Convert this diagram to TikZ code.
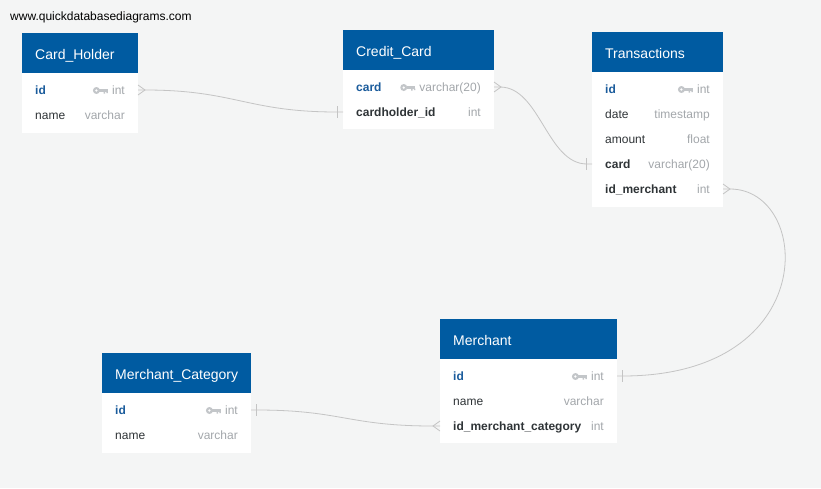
\documentclass[tikz,border=0pt]{standalone}
\usepackage{fontspec}
\setmainfont{Liberation Sans}
\usetikzlibrary{calc}
\definecolor{bgcol}{HTML}{F4F5F5}
\definecolor{hdrblue}{HTML}{005BA1}
\definecolor{pkblue}{HTML}{1B5C9C}
\definecolor{darktext}{HTML}{2F3437}
\definecolor{typegrey}{HTML}{A3A7AB}
\definecolor{keygrey}{HTML}{C3C6C9}
\definecolor{conngrey}{HTML}{C4C4C4}
\tikzset{
  hdr/.style={fill=hdrblue, draw=none, inner sep=0, outer sep=0, anchor=north west, minimum height=40pt},
  bodybox/.style={fill=white, draw=none, inner sep=0, outer sep=0, anchor=north west},
  ttl/.style={text=white, font=\fontsize{14}{16}\selectfont, inner sep=0, anchor=base west},
  rowbox/.style={inner sep=0, outer sep=0, minimum height=25pt, draw=none},
  pkf/.style={text=pkblue, font=\fontsize{12}{14}\selectfont\bfseries, inner sep=0, anchor=base west},
  fkf/.style={text=darktext, font=\fontsize{12}{14}\selectfont\bfseries, inner sep=0, anchor=base west},
  plainf/.style={text=darktext, font=\fontsize{12}{14}\selectfont, inner sep=0, anchor=base west},
  typf/.style={text=typegrey, font=\fontsize{12}{14}\selectfont, inner sep=0, anchor=base east},
  conn/.style={draw=conngrey, line width=0.8pt},
}
% #1 id, #2 x, #3 y top, #4 width, #5 body height, #6 title
\newcommand{\ertable}[6]{%
  \node[hdr, minimum width=#4] (#1) at (#2,#3) {};
  \node[bodybox, minimum width=#4, minimum height=#5] (#1-body) at (#2,#3+40) {};
  \node[ttl] (#1-title) at (#2+13,#3+26) {#6};
}
% #1 name, #2 x left, #3 width, #4 row centre y, #5 style, #6 field, #7 type
\newcommand{\errow}[7]{%
  \node[rowbox, minimum width=#3, anchor=west] (#1) at (#2,#4) {};
  \node[#5] (#1-name) at (#2+13,#4+4.5) {#6};
  \node[typf] (#1-type) at (#2+#3-13,#4+4.5) {#7};
}
\newcommand{\erkey}[1]{%
  \begin{scope}[shift={($(#1-type.base west)+(-4,-4)$)}]
    \fill[keygrey, even odd rule] (-11.5,0) circle (3.5pt) (-11.5,0) circle (1.5pt);
    \fill[keygrey] (-8.5,-1.2) rectangle (0,1.2);
    \fill[keygrey] (-4.2,1.2) rectangle (-2.7,3.2) (-1.5,1.2) rectangle (0,2.6);
  \end{scope}}
\newcommand{\manyend}[2]{%
  \draw[conn] ($(#1)+(0,-5)$) -- ($(#1)+(#2*7,0)$) -- ($(#1)+(0,5)$);}
\newcommand{\oneend}[2]{%
  \draw[conn] ($(#1)+(#2*5.5,-6)$) -- ($(#1)+(#2*5.5,6)$);}
\begin{document}
\begin{tikzpicture}[x=1pt,y=-1pt]
\useasboundingbox (0,0) rectangle (821,488);
\fill[bgcol] (0,0) rectangle (821,488);
\node[font=\fontsize{12}{14}\selectfont, anchor=base west, inner sep=0] (wm) at (10,20) {www.quickdatabasediagrams.com};

% Card_Holder
\ertable{ch}{22}{33}{116}{60}{Card\_Holder}
\errow{ch-id}{22}{116}{90}{pkf}{id}{int}\erkey{ch-id}
\errow{ch-name}{22}{116}{115}{plainf}{name}{varchar}

% Credit_Card
\ertable{cc}{343}{30}{151}{59}{Credit\_Card}
\errow{cc-card}{343}{151}{87}{pkf}{card}{varchar(20)}\erkey{cc-card}
\errow{cc-ch}{343}{151}{112}{fkf}{cardholder\_id}{int}

% Transactions
\ertable{tr}{592}{32}{131}{135}{Transactions}
\errow{tr-id}{592}{131}{89}{pkf}{id}{int}\erkey{tr-id}
\errow{tr-date}{592}{131}{114}{plainf}{date}{timestamp}
\errow{tr-amount}{592}{131}{139}{plainf}{amount}{float}
\errow{tr-card}{592}{131}{164}{fkf}{card}{varchar(20)}
\errow{tr-idm}{592}{131}{189}{fkf}{id\_merchant}{int}

% Merchant
\ertable{me}{440}{319}{177}{84}{Merchant}
\errow{me-id}{440}{177}{376}{pkf}{id}{int}\erkey{me-id}
\errow{me-name}{440}{177}{401}{plainf}{name}{varchar}
\errow{me-imc}{440}{177}{426}{fkf}{id\_merchant\_category}{int}

% Merchant_Category
\ertable{mc}{102}{353}{149}{60}{Merchant\_Category}
\errow{mc-id}{102}{149}{410}{pkf}{id}{int}\erkey{mc-id}
\errow{mc-name}{102}{149}{435}{plainf}{name}{varchar}

% connectors
\coordinate (c1s) at ($(ch-id.east)+(7,0)$);
\coordinate (c1e) at ($(cc-ch.west)+(-6,0)$);
\draw[conn] (ch-id.east) -- (c1s) .. controls +(90,0) and +(-90,0) .. (c1e) -- (cc-ch.west);
\manyend{ch-id.east}{1}
\oneend{cc-ch.west}{-1}

\coordinate (c2s) at ($(cc-card.east)+(6,0)$);
\coordinate (c2e) at ($(tr-card.west)+(-5,0)$);
\draw[conn] (cc-card.east) -- (c2s) .. controls +(40,0) and +(-40,0) .. (c2e) -- (tr-card.west);
\manyend{cc-card.east}{1}
\oneend{tr-card.west}{-1}

\coordinate (c3s) at ($(tr-idm.east)+(7,0)$);
\coordinate (c3e) at ($(me-id.east)+(5.5,0)$);
\draw[conn] (tr-idm.east) -- (c3s) .. controls +(82,0) and +(200,0) .. (c3e) -- (me-id.east);
\manyend{tr-idm.east}{1}
\oneend{me-id.east}{1}

\coordinate (c4s) at ($(mc-id.east)+(5.5,0)$);
\coordinate (c4e) at ($(me-imc.west)+(-7,0)$);
\draw[conn] (mc-id.east) -- (c4s) .. controls +(85,0) and +(-85,0) .. (c4e) -- (me-imc.west);
\oneend{mc-id.east}{1}
\manyend{me-imc.west}{-1}
\end{tikzpicture}
\end{document}
